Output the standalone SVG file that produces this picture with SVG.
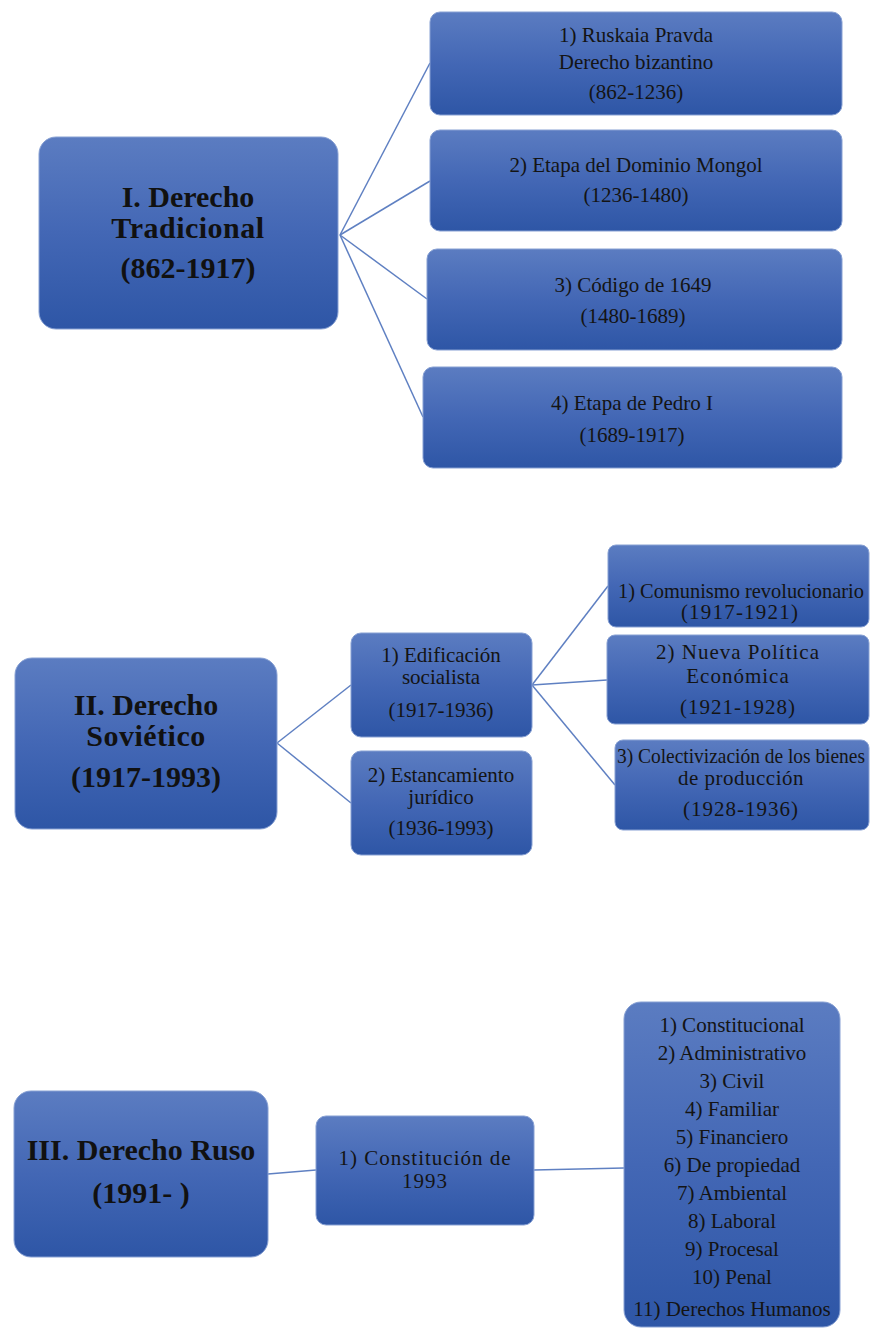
<svg xmlns="http://www.w3.org/2000/svg" width="870" height="1329" viewBox="0 0 870 1329">
<defs>
<linearGradient id="g" x1="0" y1="0" x2="0" y2="1">
<stop offset="0" stop-color="#5b7cc1"/>
<stop offset="0.5" stop-color="#4367b5"/>
<stop offset="1" stop-color="#2e56a6"/>
</linearGradient>
</defs>
<style>
.box{fill:url(#g);stroke:#87a0d3;stroke-width:1}
.t{font-family:"Liberation Serif","Times New Roman",serif;font-size:21px;fill:#141414;text-anchor:middle}
.b{font-family:"Liberation Serif","Times New Roman",serif;font-size:30px;font-weight:bold;fill:#111;text-anchor:middle}
.c{fill:none;stroke:#5f80c2;stroke-width:1.5}
</style>
<rect width="870" height="1329" fill="#ffffff"/>
<g id="connectors">
<line class="c" x1="340" y1="235" x2="430" y2="63"/>
<line class="c" x1="340" y1="235" x2="430" y2="181"/>
<line class="c" x1="340" y1="235" x2="427" y2="299"/>
<line class="c" x1="340" y1="235" x2="423" y2="417"/>
<line class="c" x1="277" y1="743" x2="351" y2="685"/>
<line class="c" x1="277" y1="743" x2="351" y2="803"/>
<line class="c" x1="532" y1="685" x2="608" y2="586"/>
<line class="c" x1="532" y1="685" x2="607" y2="680"/>
<line class="c" x1="532" y1="685" x2="615" y2="785"/>
<line class="c" x1="268" y1="1174" x2="316" y2="1170"/>
<line class="c" x1="534" y1="1170" x2="624" y2="1168"/>
</g>
<g id="n-derecho-tradicional">
<rect class="box" x="39" y="137" width="299" height="192" rx="17"/>
<text class="b" x="188" y="207">I. Derecho</text>
<text class="b" x="188" y="238" letter-spacing="0.5">Tradicional</text>
<text class="b" x="188" y="278">(862-1917)</text>
</g>
<g id="n-ruskaia">
<rect class="box" x="430" y="12" width="412" height="103" rx="10"/>
<text class="t" x="636" y="42">1) Ruskaia Pravda</text>
<text class="t" x="636" y="69">Derecho bizantino</text>
<text class="t" x="636" y="99">(862-1236)</text>
</g>
<g id="n-mongol">
<rect class="box" x="430" y="130" width="412" height="101" rx="10"/>
<text class="t" x="636" y="172">2) Etapa del Dominio Mongol</text>
<text class="t" x="636" y="202">(1236-1480)</text>
</g>
<g id="n-codigo">
<rect class="box" x="427" y="249" width="415" height="101" rx="10"/>
<text class="t" x="633" y="292">3) Código de 1649</text>
<text class="t" x="633" y="323">(1480-1689)</text>
</g>
<g id="n-pedro">
<rect class="box" x="423" y="367" width="419" height="101" rx="10"/>
<text class="t" x="632" y="410">4) Etapa de Pedro I</text>
<text class="t" x="632" y="442">(1689-1917)</text>
</g>
<g id="n-derecho-sovietico">
<rect class="box" x="15" y="658" width="262" height="171" rx="17"/>
<text class="b" x="146" y="715">II. Derecho</text>
<text class="b" x="146" y="746" letter-spacing="0.5">Soviético</text>
<text class="b" x="146" y="787">(1917-1993)</text>
</g>
<g id="n-edificacion">
<rect class="box" x="351" y="633" width="181" height="104" rx="10"/>
<text class="t" x="441" y="662" font-size="20">1) Edificación</text>
<text class="t" x="441" y="684" font-size="20">socialista</text>
<text class="t" x="441" y="717">(1917-1936)</text>
</g>
<g id="n-estancamiento">
<rect class="box" x="351" y="751" width="181" height="104" rx="10"/>
<text class="t" x="441" y="782" font-size="20">2) Estancamiento</text>
<text class="t" x="441" y="804" font-size="20">jurídico</text>
<text class="t" x="441" y="835">(1936-1993)</text>
</g>
<g id="n-comunismo">
<rect class="box" x="608" y="545" width="261" height="82" rx="8"/>
<text class="t" x="741" y="598" font-size="18" textLength="246" lengthAdjust="spacingAndGlyphs">1) Comunismo revolucionario</text>
<text class="t" x="740" y="619" font-size="18" letter-spacing="1.2">(1917-1921)</text>
</g>
<g id="n-nep">
<rect class="box" x="607" y="635" width="262" height="89" rx="8"/>
<text class="t" x="738" y="659" letter-spacing="1">2) Nueva Política</text>
<text class="t" x="738" y="683" letter-spacing="1">Económica</text>
<text class="t" x="738" y="714" letter-spacing="1">(1921-1928)</text>
</g>
<g id="n-colectivizacion">
<rect class="box" x="615" y="740" width="254" height="90" rx="8"/>
<text class="t" x="741" y="763" font-size="19" textLength="248" lengthAdjust="spacingAndGlyphs">3) Colectivización de los bienes</text>
<text class="t" x="741" y="785" font-size="19" letter-spacing="0.5">de producción</text>
<text class="t" x="741" y="816" font-size="20" letter-spacing="1">(1928-1936)</text>
</g>
<g id="n-derecho-ruso">
<rect class="box" x="14" y="1091" width="254" height="166" rx="17"/>
<text class="b" x="141" y="1160">III. Derecho Ruso</text>
<text class="b" x="141" y="1203">(1991- )</text>
</g>
<g id="n-constitucion">
<rect class="box" x="316" y="1116" width="218" height="109" rx="10"/>
<text class="t" x="425" y="1165" letter-spacing="1">1) Constitución de</text>
<text class="t" x="425" y="1188" letter-spacing="1">1993</text>
</g>
<g id="n-ramas">
<rect class="box" x="624" y="1002" width="216" height="325" rx="17"/>
<text class="t" x="732" y="1032">1) Constitucional</text>
<text class="t" x="732" y="1060">2) Administrativo</text>
<text class="t" x="732" y="1088">3) Civil</text>
<text class="t" x="732" y="1116">4) Familiar</text>
<text class="t" x="732" y="1144">5) Financiero</text>
<text class="t" x="732" y="1172">6) De propiedad</text>
<text class="t" x="732" y="1200">7) Ambiental</text>
<text class="t" x="732" y="1228">8) Laboral</text>
<text class="t" x="732" y="1256">9) Procesal</text>
<text class="t" x="732" y="1284">10) Penal</text>
<text class="t" x="732" y="1316">11) Derechos Humanos</text>
</g>
</svg>
